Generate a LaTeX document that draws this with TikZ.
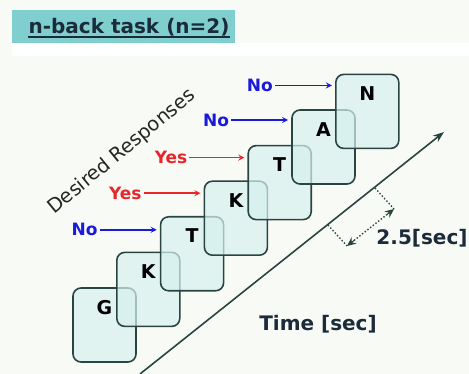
\documentclass[tikz,border=0pt]{standalone}
\usepackage{fontspec}
\setmainfont{DejaVu Sans}
\usepackage{tikz}
\usetikzlibrary{arrows.meta}
\usetikzlibrary{positioning}
\definecolor{bgcol}{HTML}{F8FAF6}
\definecolor{bandcol}{HTML}{80CFCF}
\definecolor{cardfill}{HTML}{D6F1EE}
\definecolor{cardline}{HTML}{2A4541}
\definecolor{nocol}{HTML}{1A1ADC}
\definecolor{yescol}{HTML}{E8262A}
\definecolor{titlecol}{HTML}{1C2B3A}

\begin{document}
\begin{tikzpicture}[x=1pt, y=-1pt,
    card/.style={draw=cardline, fill=cardfill, fill opacity=0.7, draw opacity=1, line width=1.6pt, rounded corners=8pt, minimum width=63pt, minimum height=74pt, inner sep=0},
    letter/.style={font=\fontsize{19}{22}\selectfont\bfseries, text=black},
    resp/.style={font=\fontsize{17}{20}\selectfont\bfseries, inner sep=2pt},
    big/.style={font=\fontsize{20}{24}\selectfont\bfseries, text=titlecol}]
        % background and title band
        \fill[bgcol] (0,0) rectangle (469,374);
        \useasboundingbox (0,0) rectangle (469,374);
        \fill[white] (12,43) rectangle (469,56);
        \fill[bandcol] (12,10) rectangle (235,43);
        \node[font=\fontsize{20}{24}\selectfont\bfseries, text=titlecol, inner sep=0] (ttl) at (129,27) {n-back task (n=2)};
        \draw[titlecol, line width=1.6pt] ([yshift=-4pt]ttl.base west) -- ([yshift=-4pt]ttl.base east);
        % stimulus cards
        \foreach \ltr [count=\i from 0] in {G,K,T,K,T,A,N} {
            \node[card] (c\i) at ({104.5+43.8*\i},{325-35.6*\i}) {};
            \node[letter] (l\i) at ([yshift=-20pt]c\i.north) {\ltr};
        }
        % desired responses
        \node[font=\fontsize{19.5}{23}\selectfont, text=black!85, rotate=39.5, inner sep=0] (dr) at (122,152) {Desired Responses};
        \coordinate (a2) at ([xshift=-3pt,yshift=24pt]c2.west);
        \coordinate (a3) at ([xshift=-3pt,yshift=25pt]c3.west);
        \coordinate (a4) at ([xshift=-3pt,yshift=25pt]c4.west);
        \coordinate (a5) at ([xshift=-3pt,yshift=27pt]c5.west);
        \coordinate (a6) at ([xshift=-3pt,yshift=26pt]c6.west);
        \node[resp, text=nocol, left=57pt of a2] (r2) {No};
        \node[resp, text=yescol, left=57pt of a3] (r3) {Yes};
        \node[resp, text=yescol, left=55pt of a4] (r4) {Yes};
        \node[resp, text=nocol, left=57pt of a5] (r5) {No};
        \node[resp, text=nocol, left=57pt of a6] (r6) {No};
        \draw[->,>=stealth, nocol, line width=1.7pt] (r2) -- (a2);
        \draw[->,>=stealth, yescol, line width=1.7pt] (r3) -- (a3);
        \draw[->,>=stealth, yescol, line width=1.7pt] (r4) -- (a4);
        \draw[->,>=stealth, nocol, line width=1.7pt] (r5) -- (a5);
        \draw[->,>=stealth, nocol, line width=1.7pt] (r6) -- (a6);
        % time axis
        \coordinate (t0) at (140,374);
        \coordinate (t1) at (444,132);
        \draw[->,>={Stealth[length=11pt,width=8pt]}, cardline, line width=1.6pt] (t0) -- (t1);
        \coordinate (d1) at (375,188);
        \coordinate (d2) at (328,225);
        \coordinate (e1) at (394,209);
        \coordinate (e2) at (347,246);
        \path (e2) -- (e1) coordinate[pos=0.15] (f2) coordinate[pos=0.85] (f1);
        \draw[dotted, cardline, line width=1.4pt] (d1) -- (e1);
        \draw[dotted, cardline, line width=1.4pt] (d2) -- (e2);
        \draw[dotted, cardline, line width=1.4pt] (f2) -- (f1);
        \draw[-{Stealth[length=9pt,width=8pt]}, cardline, line width=1pt] (f1) -- (e1);
        \draw[-{Stealth[length=9pt,width=8pt]}, cardline, line width=1pt] (f2) -- (e2);
        \node[big] (dt) at (422,238) {2.5[sec]};
        \node[big] (tm) at (318,324) {Time [sec]};
    \end{tikzpicture}
\end{document}
